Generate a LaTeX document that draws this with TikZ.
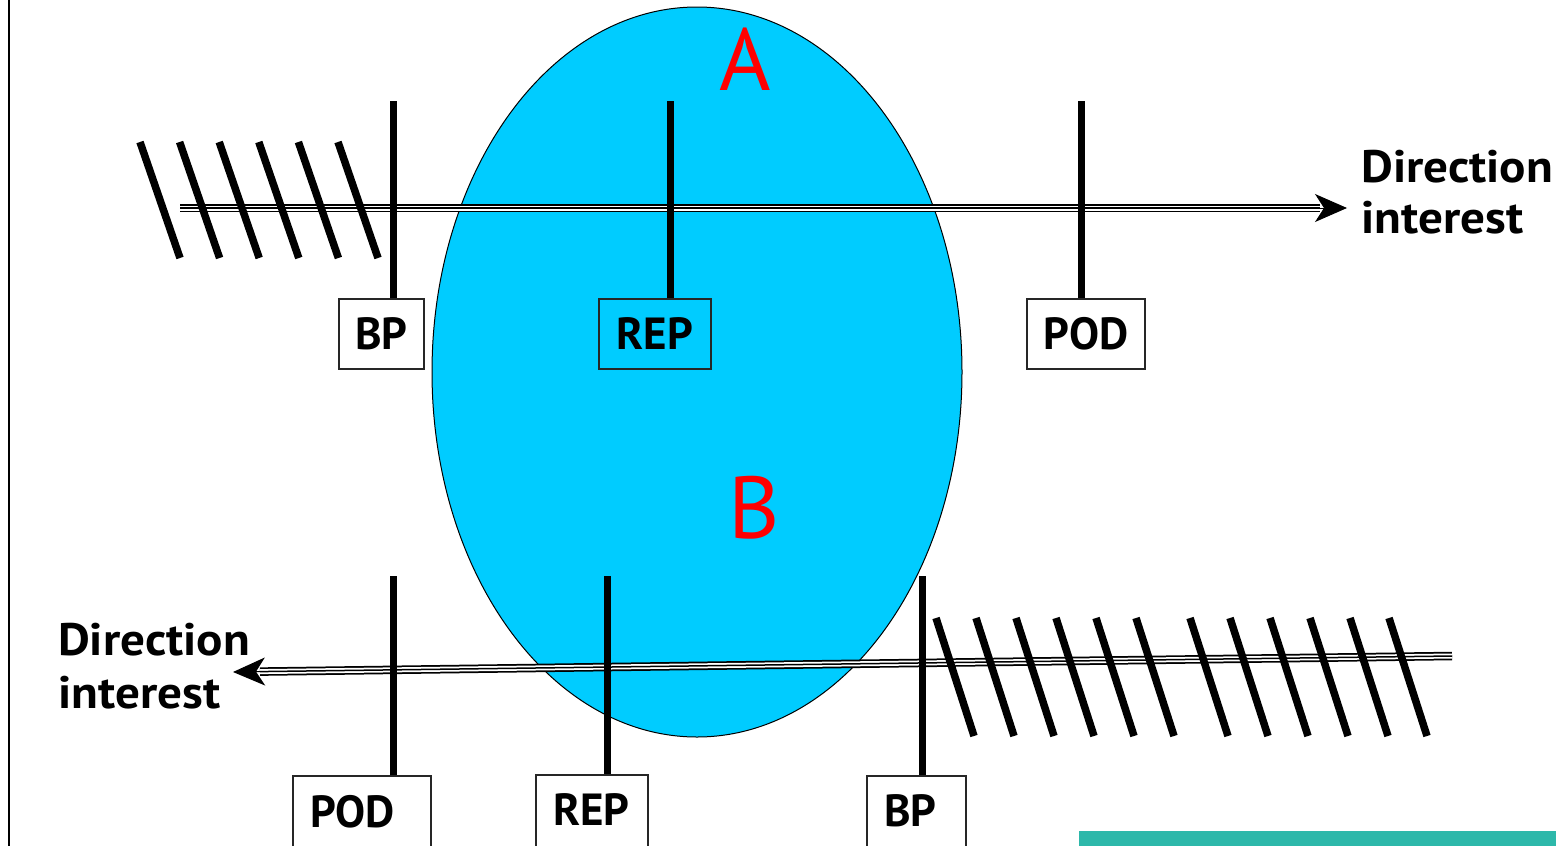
\documentclass[tikz,border=0pt]{standalone}
\usepackage{fontspec}
\setmainfont{PT Sans}
\newfontfamily\widefont[FakeStretch=1.08]{PT Sans}
\usetikzlibrary{arrows.meta}
\definecolor{ellcyan}{HTML}{00CCFF}
\definecolor{barteal}{HTML}{2DB8AA}
\definecolor{lblred}{HTML}{FF0000}
\tikzset{
  bar/.style={line width=7pt},
  hatch/.style={line width=7.5pt},
  signbox/.style={draw=black!85, line width=1.6pt, inner sep=0pt, minimum height=70pt,
    font=\fontsize{45}{52}\selectfont\bfseries},
  lowbox/.style={signbox, minimum height=74pt, inner xsep=17pt, align=left},
  dirtext/.style={inner sep=0pt, anchor=base west, font=\widefont\fontsize{45.5}{52}\selectfont\bfseries},
  biglbl/.style={inner sep=0pt, text=lblred, font=\fontsize{88}{96}\selectfont},
  arrowhd/.style={line width=1pt, -{Stealth[length=32pt,width=28pt,inset=9pt]}}
}
\begin{document}
\begin{tikzpicture}[x=1pt,y=-1pt]
\useasboundingbox (0,0) rectangle (1556,846);
\clip (0,0) rectangle (1556,846);
% left rule
\draw[line width=2pt] (9,0) -- (9,846);
% ellipse
\draw[fill=ellcyan, line width=1pt] (697,372) ellipse [x radius=265pt, y radius=365pt];
% labels A, B
\node[biglbl] (A) at (745,59) {A};
\node[biglbl] (B) at (754,508) {B};
% top track (arrow to the right)
\coordinate (ta) at (180,208);
\coordinate (tb) at (1320,208);
\coordinate (tt) at (1347,208);
\draw[line width=8.5pt] (ta) -- (tb);
\draw[line width=5pt, white] (ta) -- (tb);
\draw[line width=1.5pt] (ta) -- (tb);
\draw[arrowhd] (tb) -- (tt);
% bottom track (arrow to the left)
\coordinate (ba) at (1452,656);
\coordinate (bb) at (260,671.6);
\coordinate (bt) at (233,672);
\draw[line width=8.5pt] (ba) -- (bb);
\draw[line width=5pt, white] (ba) -- (bb);
\draw[line width=1.5pt] (ba) -- (bb);
\draw[arrowhd] (bb) -- (bt);
% top-left hatching
\foreach \x in {140,179.6,219.2,258.8,298.4,338}
  \draw[hatch] (\x,142) -- (\x+40,258);
% bottom-right hatching
\foreach \x in {936,976,1016,1056,1096,1136,1190,1230,1270,1310,1350,1389}
  \draw[hatch] (\x,618) -- (\x+38,736);
% top boxes
\node[signbox, minimum width=85pt] (BPt) at (381.5,334) {BP};
\node[signbox, minimum width=112pt] (REPt) at (655,334) {REP};
\node[signbox, minimum width=118pt] (PODt) at (1086,334) {POD};
% bottom boxes
\node[lowbox, text width=104pt] (PODb) at (362,813) {\raisebox{4pt}{POD}};
\node[lowbox, text width=78pt] (REPb) at (592,812) {\raisebox{4pt}{REP}};
\node[lowbox, text width=65pt] (BPb) at (916.5,813) {\raisebox{4pt}{BP}};
% top posts
\coordinate (pBPt) at (393,101);
\coordinate (pREPt) at (670,101);
\coordinate (pPODt) at (1081,101);
\draw[bar] (pBPt) -- (pBPt |- BPt.north);
\draw[bar] (pREPt) -- (pREPt |- REPt.north);
\draw[bar] (pPODt) -- (pPODt |- PODt.north);
% bottom posts
\coordinate (pPODb) at (393,576);
\coordinate (pREPb) at (607,576);
\coordinate (pBPb) at (922,576);
\draw[bar] (pPODb) -- (pPODb |- PODb.north);
\draw[bar] (pREPb) -- (pREPb |- REPb.north);
\draw[bar] (pBPb) -- (pBPb |- BPb.north);
% direction texts
\node[dirtext] (d1a) at (1361,182) {Direction};
\node[dirtext] (d1b) at (1361,233) {interest};
\node[dirtext] (d2a) at (58,655) {Direction};
\node[dirtext] (d2b) at (58,708) {interest};
% teal bar
\fill[barteal] (1079,831) rectangle (1556,846);
\end{tikzpicture}
\end{document}
